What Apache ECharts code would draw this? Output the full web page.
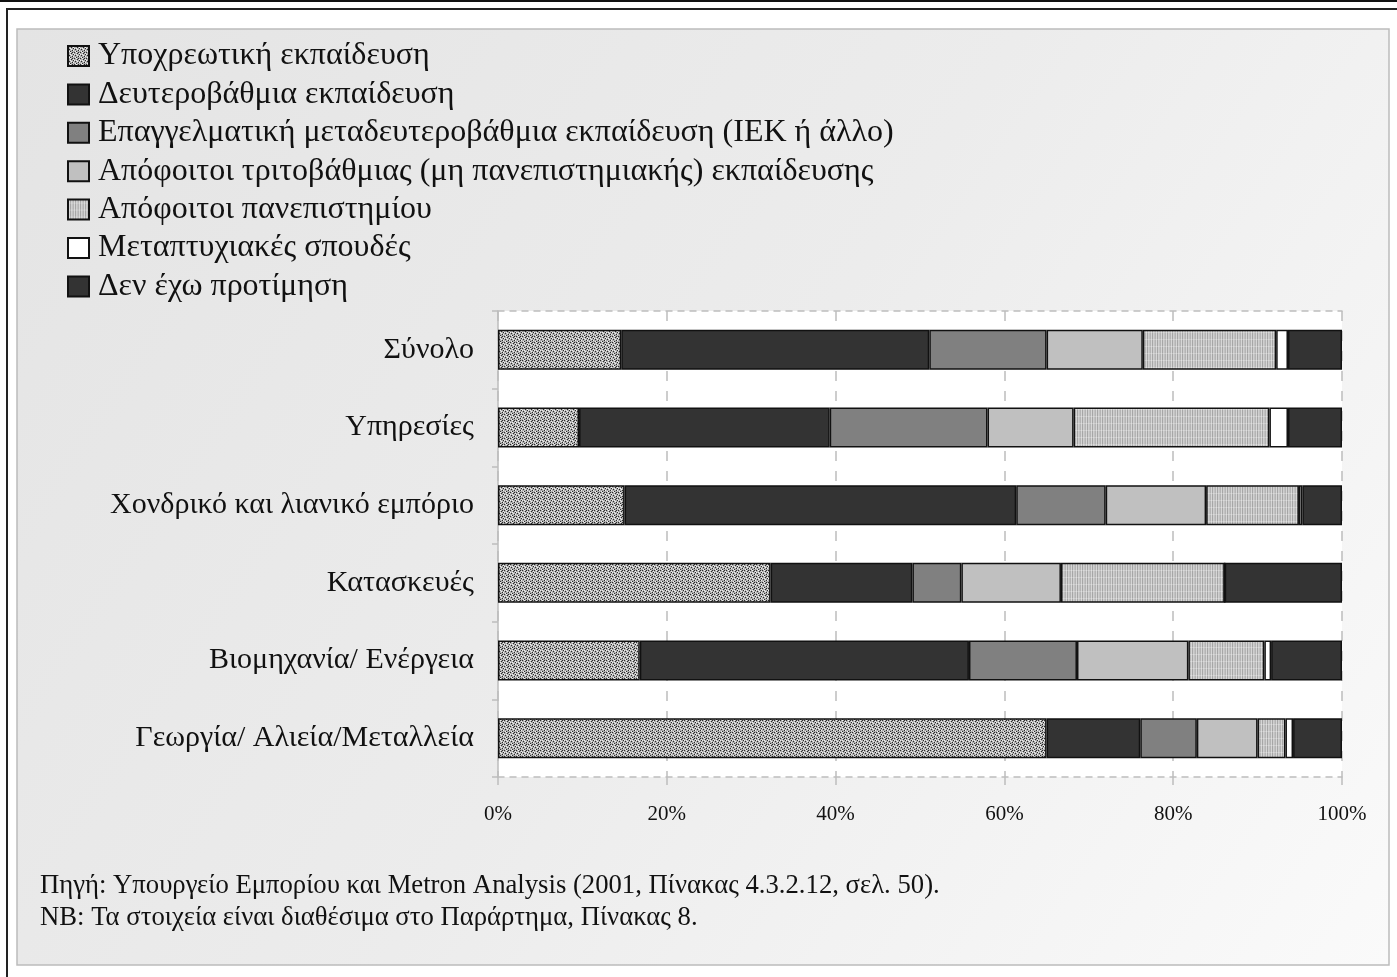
<!DOCTYPE html>
<html>
<head>
<meta charset="utf-8">
<script src="https://cdn.jsdelivr.net/npm/echarts@6/dist/echarts.min.js"></script>
<style>
html,body{margin:0;padding:0;background:#fff;}
#chart{width:1397px;height:977px;}
</style>
</head>
<body>
<div id="chart"></div>
<script>
// ---- data ----
const categories = ['Σύνολο', 'Υπηρεσίες', 'Χονδρικό και λιανικό εμπόριο', 'Κατασκευές', 'Βιομηχανία/ Ενέργεια', 'Γεωργία/ Αλιεία/Μεταλλεία'];
const seriesNames = [
  'Υποχρεωτική εκπαίδευση',
  'Δευτεροβάθμια εκπαίδευση',
  'Επαγγελματική μεταδευτεροβάθμια εκπαίδευση (ΙΕΚ ή άλλο)',
  'Απόφοιτοι τριτοβάθμιας (μη πανεπιστημιακής) εκπαίδευσης',
  'Απόφοιτοι πανεπιστημίου',
  'Μεταπτυχιακές σπουδές',
  'Δεν έχω προτίμηση'
];
const compulsory   = [14.6,  9.6, 15.0, 32.3, 16.8, 65.0];
const secondary    = [36.5, 29.7, 46.4, 16.8, 39.0, 11.1];
const vocational   = [13.9, 18.7, 10.6,  5.8, 12.8,  6.7];
const tertiary     = [11.4, 10.2, 11.9, 11.8, 13.2,  7.2];
const university   = [15.8, 23.2, 11.0, 19.4,  9.0,  3.3];
const postgraduate = [ 1.4,  2.2,  0.4,  0.0,  0.8,  0.9];
const noPreference = [ 6.4,  6.4,  4.7, 13.9,  8.4,  5.8];
const xTicks = { min: 0, max: 100, interval: 20 };
const footnotes = [
  'Πηγή: Υπουργείο Εμπορίου και Metron Analysis (2001, Πίνακας 4.3.2.12, σελ. 50).',
  'ΝΒ: Τα στοιχεία είναι διαθέσιμα στο Παράρτημα, Πίνακας 8.'
];

// ---- patterns ----
function stipple() {
  const c = document.createElement('canvas'); c.width = 6; c.height = 6;
  const g = c.getContext('2d');
  g.fillStyle = '#aeaeae'; g.fillRect(0, 0, 6, 6);
  g.fillStyle = '#2a2a2a';
  [[0,0],[3,1],[1,3],[4,4],[2,5],[5,2],[4,0]].forEach(p => g.fillRect(p[0], p[1], 1, 1));
  g.fillStyle = '#f0f0f0';
  [[2,0],[5,1],[0,2],[3,3],[1,5],[5,4],[2,2]].forEach(p => g.fillRect(p[0], p[1], 1, 1));
  return c;
}
function stripes() {
  const c = document.createElement('canvas'); c.width = 5; c.height = 7;
  const g = c.getContext('2d');
  const cols = ['#b4b4b4', '#d6d6d6', '#a6a6a6', '#cfcfcf', '#c2c2c2'];
  cols.forEach((col, i) => { g.fillStyle = col; g.fillRect(i, 0, 1, 7); });
  g.fillStyle = 'rgba(255,255,255,0.25)'; g.fillRect(0, 3, 5, 1);
  return c;
}
const fills = [
  { image: stipple(), repeat: 'repeat' },
  '#333333',
  '#808080',
  '#c0c0c0',
  { image: stripes(), repeat: 'repeat' },
  '#ffffff',
  '#333333'
];
const values = [compulsory, secondary, vocational, tertiary, university, postgraduate, noPreference];

const serif = '"Liberation Serif", "DejaVu Serif", serif';
const gridLine = '#bdbdbd';

const chart = echarts.init(document.getElementById('chart'), null, { renderer: 'canvas' });
chart.setOption({
  animation: false,
  backgroundColor: '#ffffff',
  graphic: [
    { type: 'rect', z: -10, shape: { x: 0, y: 0, width: 1397, height: 2 }, style: { fill: '#111' } },
    { type: 'rect', z: -10, shape: { x: 6, y: 8, width: 1391, height: 2 }, style: { fill: '#222' } },
    { type: 'rect', z: -10, shape: { x: 6, y: 8, width: 2, height: 969 }, style: { fill: '#222' } },
    { type: 'rect', z: -10, shape: { x: 17, y: 29, width: 1372, height: 936 },
      style: { fill: new echarts.graphic.LinearGradient(0, 0, 1, 1, [
        { offset: 0, color: '#e4e4e4' }, { offset: 0.5, color: '#ececec' }, { offset: 1, color: '#fafafa' }
      ]), stroke: '#bcbcbc', lineWidth: 1.5 } },
    { type: 'text', z: 10, x: 40, y: 886, style: { text: footnotes[0], font: '26.7px ' + serif, fill: '#111', textVerticalAlign: 'middle' } },
    { type: 'text', z: 10, x: 40, y: 918, style: { text: footnotes[1], font: '26.7px ' + serif, fill: '#111', textVerticalAlign: 'middle' } }
  ],
  legend: {
    orient: 'vertical',
    left: 67,
    top: 40,
    padding: 0,
    itemWidth: 21,
    itemHeight: 20,
    itemGap: 6.4,
    icon: 'rect',
    textStyle: { fontFamily: serif, fontSize: 32, color: '#111', padding: [0, 0, 0, 4] },
    data: seriesNames
  },
  grid: {
    left: 498, right: 55, top: 311, bottom: 200,
    show: true, backgroundColor: '#ffffff', borderWidth: 0, containLabel: false
  },
  xAxis: [{
    type: 'value', min: xTicks.min, max: xTicks.max, interval: xTicks.interval,
    axisLabel: { formatter: '{value}%', fontFamily: serif, fontSize: 21, color: '#111', margin: 27 },
    axisLine: { show: true, lineStyle: { color: gridLine, width: 1.5, type: [6, 6] } },
    axisTick: { show: true, length: 8, lineStyle: { color: gridLine, width: 1.5 } },
    splitLine: { show: true, lineStyle: { color: gridLine, width: 1.5, type: [10, 10] } }
  }, {
    type: 'value', position: 'top', min: xTicks.min, max: xTicks.max, interval: xTicks.interval,
    axisLabel: { show: false }, axisTick: { show: false }, splitLine: { show: false },
    axisLine: { show: true, lineStyle: { color: gridLine, width: 1.5, type: [6, 6] } }
  }],
  yAxis: {
    type: 'category', inverse: true, data: categories,
    axisLine: { show: true, lineStyle: { color: gridLine, width: 1.5 } },
    axisTick: { show: true, length: 6, lineStyle: { color: gridLine, width: 1.5 } },
    axisLabel: { fontFamily: serif, fontSize: 30, color: '#111', margin: 24, padding: [8, 0, 0, 0] }
  },
  series: seriesNames.map((name, i) => ({
    name, type: 'bar', stack: 'total', xAxisIndex: 0,
    barWidth: 40,
    data: values[i],
    itemStyle: { color: fills[i], borderColor: '#111', borderWidth: 1.5 },
    emphasis: { disabled: true }
  }))
});
</script>
</body>
</html>
